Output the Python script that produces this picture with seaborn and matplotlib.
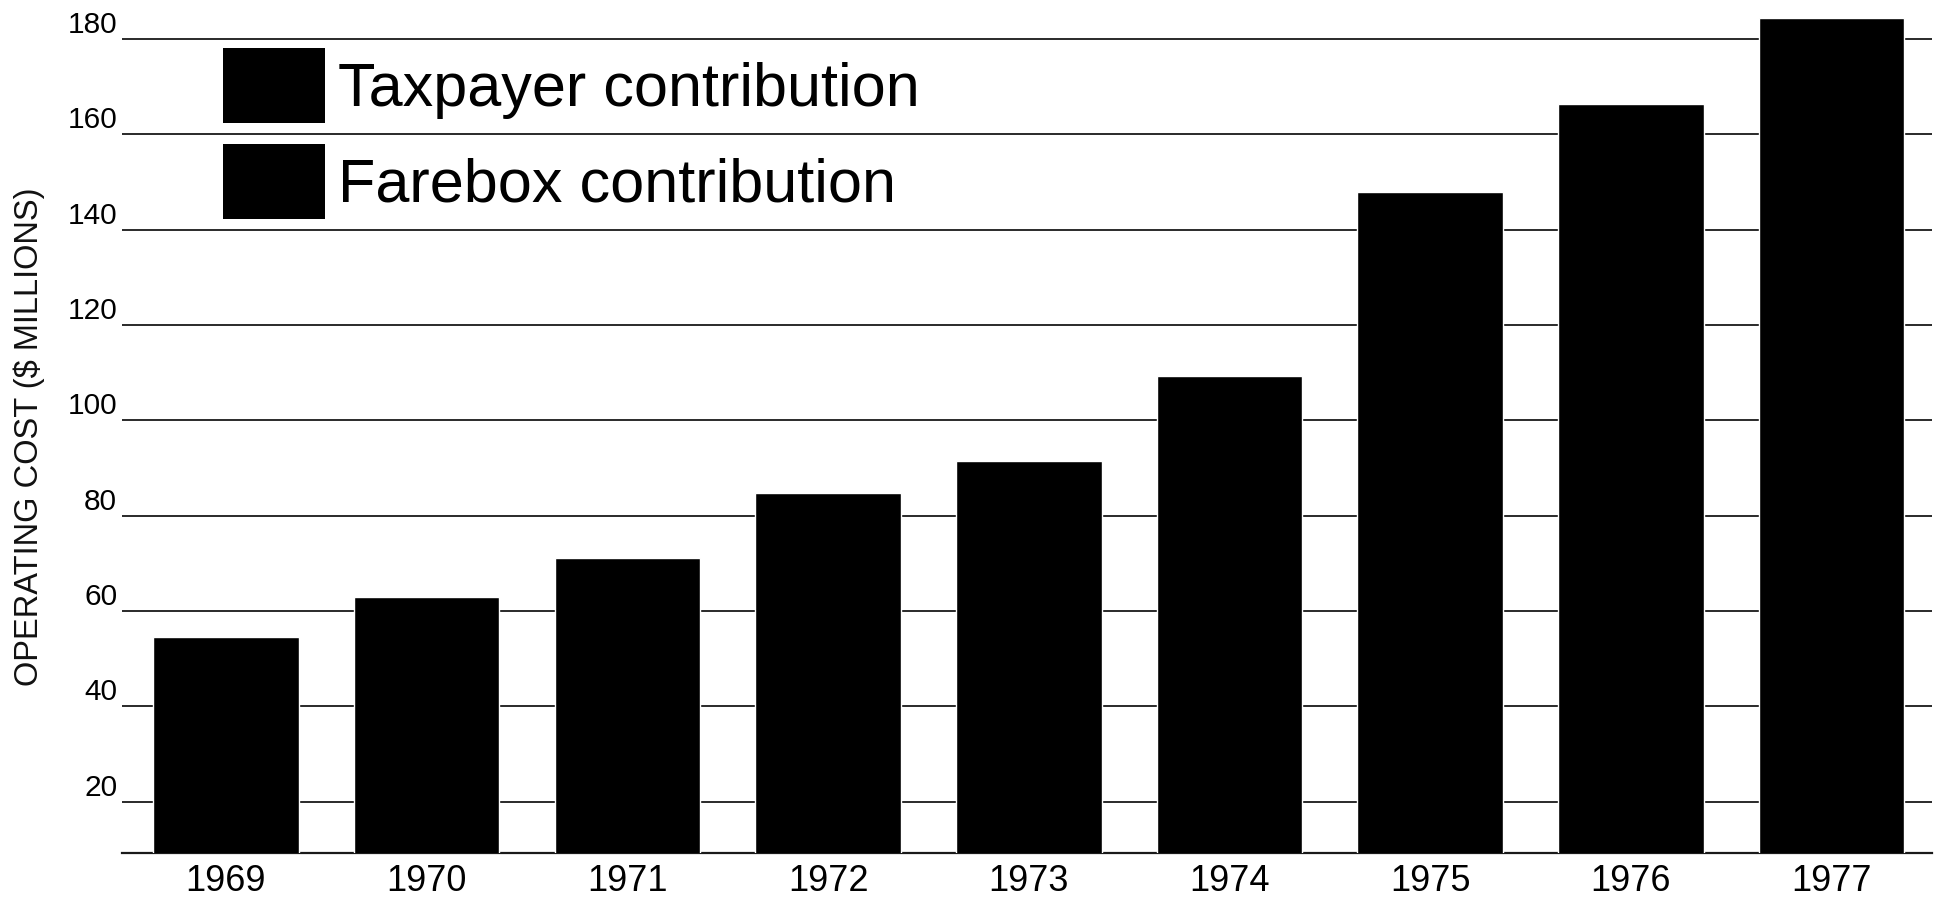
import matplotlib
matplotlib.use("Agg")
import matplotlib.pyplot as plt
from matplotlib.patches import Patch
import seaborn as sns
import pandas as pd

# --- data ---
years = ["1969", "1970", "1971", "1972", "1973", "1974", "1975", "1976", "1977"]
total_cost = [54.5, 62.9, 71.1, 84.8, 91.5, 109.3, 148.0, 166.4, 184.4]  # $ millions
legend_labels = ["Taxpayer contribution", "Farebox contribution"]
y_ticks = [20, 40, 60, 80, 100, 120, 140, 160, 180]

df = pd.DataFrame({"year": years, "cost": total_cost})

sns.set_style("white")
plt.rcParams["font.family"] = ["Liberation Sans", "DejaVu Sans"]

fig = plt.figure(figsize=(19.44, 8.99), dpi=100)
ax = fig.add_axes([122 / 1944, 1 - 853.3 / 899, 1810 / 1944, 853.3 / 899])

sns.barplot(data=df, x="year", y="cost", color="black", saturation=1,
            width=0.725, ax=ax, zorder=3)

ax.set_xlim(-0.518, 8.5)
ax.set_ylim(9.2, 188.2)
ax.set_yticks(y_ticks)
ax.yaxis.grid(True, color="#2a2a2a", lw=1.4)
ax.xaxis.grid(False)
ax.set_axisbelow(True)

for s in ["top", "right", "left"]:
    ax.spines[s].set_visible(False)
ax.spines["bottom"].set_color("#1a1a1a")
ax.spines["bottom"].set_linewidth(1.6)

ax.tick_params(axis="y", length=0, pad=3.5, labelsize=21.5, colors="#000")
ax.tick_params(axis="x", length=0, pad=7.5, labelsize=26, colors="#000")
plt.setp(ax.get_yticklabels(), va="bottom")

ax.set_xlabel("")
ax.set_ylabel("OPERATING COST ($ MILLIONS)", fontsize=23.5, color="#111")
ax.yaxis.label.set_va("center")
ax.yaxis.set_label_coords(-0.0514, 0.488)

# legend: both swatches are solid black in the scan
handles = [Patch(facecolor="black", edgecolor="none"),
           Patch(facecolor="black", edgecolor="none")]
leg = ax.legend(handles, legend_labels, loc="upper left",
                bbox_to_anchor=((223 - 122) / 1810, (853.3 - 48) / 853.3),
                frameon=False, fontsize=44, handlelength=1.67, handleheight=1.52,
                handletextpad=0.21, labelspacing=0.33, borderpad=0, borderaxespad=0)
for t in leg.get_texts():
    t.set_color("black")

fig.savefig("out.png", dpi=100, facecolor="white")
